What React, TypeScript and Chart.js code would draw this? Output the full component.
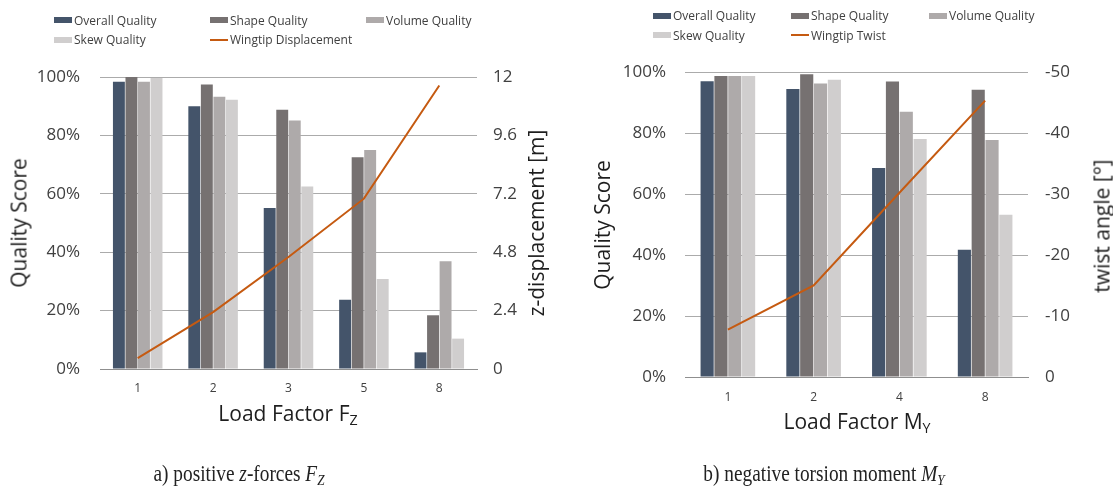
import React, { useEffect, useRef } from 'react';
import { Chart, registerables } from 'chart.js';

Chart.register(...registerables);

// ---------- data: panel a) positive z-forces ----------
const leftCategories = ['1', '2', '3', '5', '8'];
const leftOverall = [98.4, 90.0, 55.1, 23.7, 5.7];
const leftShape = [100.0, 97.4, 88.8, 72.5, 18.4];
const leftVolume = [98.4, 93.2, 85.1, 75.0, 36.9];
const leftSkew = [99.7, 92.2, 62.5, 30.8, 10.4];
const leftDisplacement = [0.45, 2.34, 4.6, 7.0, 11.65];
const displacementTicks = [0, 2.4, 4.8, 7.2, 9.6, 12];

// ---------- data: panel b) negative torsion moment ----------
const rightCategories = ['1', '2', '4', '8'];
const rightOverall = [97.0, 94.4, 68.5, 41.7];
const rightShape = [98.7, 99.3, 96.9, 94.2];
const rightVolume = [98.7, 96.2, 87.0, 77.7];
const rightSkew = [98.7, 97.5, 78.0, 53.2];
const rightTwist = [-7.75, -15.0, -30.2, -45.3];
const twistTicks = [0, -10, -20, -30, -40, -50];

const qualityTicks = [0, 20, 40, 60, 80, 100];
const seriesNames = ['Overall Quality', 'Shape Quality', 'Volume Quality', 'Skew Quality'];
const seriesColors = ['#44546a', '#767171', '#aeaaaa', '#d0cece'];
const lineColor = '#c55a11';

const FONT = '"Open Sans", "Noto Sans", sans-serif';
const TICK_COLOR = '#404040';
const TITLE_COLOR = '#1e1e1e';

type PanelProps = {
  left: number;
  width: number;
  height: number;
  categories: string[];
  bars: number[][];
  lineLabel: string;
  lineData: number[];
  lineTicks: number[];
  lineMin: number;
  lineMax: number;
  lineReverse: boolean;
  padTop: number;
  xHeight: number;
  yWidth: number;
  y2Width: number;
  yPad: number;
  y2Pad: number;
  xPad: number;
  catPct: number;
};

function ChartPanel(p: PanelProps) {
  const ref = useRef<HTMLCanvasElement | null>(null);
  useEffect(() => {
    if (!ref.current) return;
    const datasets: any[] = p.bars.map((data, i) => ({
      type: 'bar',
      label: seriesNames[i],
      data,
      backgroundColor: seriesColors[i],
      borderWidth: 0,
      yAxisID: 'y',
      categoryPercentage: p.catPct,
      barPercentage: 0.95,
      order: 1,
    }));
    datasets.push({
      type: 'line',
      label: p.lineLabel,
      data: p.lineData,
      borderColor: lineColor,
      backgroundColor: lineColor,
      borderWidth: 2,
      pointRadius: 0,
      tension: 0,
      yAxisID: 'y2',
      order: 0,
    });
    const chart = new Chart(ref.current, {
      type: 'bar',
      data: { labels: p.categories, datasets },
      options: {
        responsive: false,
        animation: false,
        events: [],
        layout: { padding: { top: p.padTop, left: 0, right: 0, bottom: 0 } },
        plugins: { legend: { display: false }, tooltip: { enabled: false } },
        scales: {
          x: {
            grid: { display: false, drawTicks: false },
            border: { display: true, color: '#8f8f8f', width: 1 },
            ticks: { color: TICK_COLOR, font: { family: FONT, size: 12 }, padding: p.xPad },
            afterFit: (s: any) => {
              s.height = p.xHeight;
            },
          },
          y: {
            position: 'left',
            min: 0,
            max: 100,
            grid: { color: '#ababab', lineWidth: 1, drawTicks: false },
            border: { display: false },
            ticks: {
              color: TICK_COLOR,
              font: { family: FONT, size: 17 },
              padding: p.yPad,
              callback: (v: any) => v + '%',
            },
            afterBuildTicks: (s: any) => {
              s.ticks = qualityTicks.map((v) => ({ value: v }));
            },
            afterFit: (s: any) => {
              s.width = p.yWidth;
            },
          },
          y2: {
            position: 'right',
            min: p.lineMin,
            max: p.lineMax,
            reverse: p.lineReverse,
            grid: { display: false, drawTicks: false },
            border: { display: false },
            ticks: {
              color: TICK_COLOR,
              font: { family: FONT, size: 17 },
              padding: p.y2Pad,
              callback: (v: any) => String(v),
            },
            afterBuildTicks: (s: any) => {
              s.ticks = p.lineTicks.map((v) => ({ value: v }));
            },
            afterFit: (s: any) => {
              s.width = p.y2Width;
            },
          },
        },
      } as any,
    });
    return () => chart.destroy();
  }, []);
  return (
    <canvas
      ref={ref}
      width={p.width}
      height={p.height}
      style={{ position: 'absolute', left: p.left, top: 0, width: p.width, height: p.height }}
    />
  );
}

function Legend(props: { left: number[]; rows: number[]; lineLabel: string }) {
  const items = [
    { label: seriesNames[0], color: seriesColors[0], line: false },
    { label: seriesNames[1], color: seriesColors[1], line: false },
    { label: seriesNames[2], color: seriesColors[2], line: false },
    { label: seriesNames[3], color: seriesColors[3], line: false },
    { label: props.lineLabel, color: lineColor, line: true },
  ];
  return (
    <>
      {items.map((it, i) => {
        const col = i % 3;
        const row = Math.floor(i / 3);
        return (
          <div
            key={i}
            style={{
              position: 'absolute',
              left: props.left[col],
              top: props.rows[row] - 9,
              height: 18,
              display: 'flex',
              alignItems: 'center',
              whiteSpace: 'nowrap',
              font: `12px ${FONT}`,
              color: '#404040',
            }}
          >
            <span
              style={{
                display: 'inline-block',
                width: 18,
                height: it.line ? 2 : 6,
                background: it.color,
                marginRight: 2,
              }}
            />
            {it.label}
          </div>
        );
      })}
    </>
  );
}

function AxisTitle(props: { x: number; y: number; rotate?: boolean; children: React.ReactNode }) {
  return (
    <div
      style={{
        position: 'absolute',
        left: props.x,
        top: props.y,
        transform: `translate(-50%, -50%)${props.rotate ? ' rotate(-90deg)' : ''}`,
        whiteSpace: 'nowrap',
        font: `21px ${FONT}`,
        color: TITLE_COLOR,
        lineHeight: 1,
      }}
    >
      {props.children}
    </div>
  );
}

function Caption(props: { x: number; y: number; children: React.ReactNode }) {
  return (
    <div
      style={{
        position: 'absolute',
        left: props.x,
        top: props.y,
        transform: 'translate(-50%, -50%) scaleX(0.84)',
        whiteSpace: 'nowrap',
        font: '23px "Liberation Serif", "DejaVu Serif", serif',
        color: '#222',
        lineHeight: 1,
      }}
    >
      {props.children}
    </div>
  );
}

const subStyle: React.CSSProperties = { fontSize: '0.68em', verticalAlign: '-0.3em', lineHeight: 0 };

export default function App() {
  return (
    <div style={{ position: 'absolute', left: 0, top: 0, width: 1113, height: 491, background: '#fff', overflow: 'hidden' }}>
      <ChartPanel
        left={0}
        width={556}
        height={440}
        categories={leftCategories}
        bars={[leftOverall, leftShape, leftVolume, leftSkew]}
        lineLabel="Wingtip Displacement"
        lineData={leftDisplacement}
        lineTicks={displacementTicks}
        lineMin={0}
        lineMax={12}
        lineReverse={false}
        padTop={77}
        xHeight={71}
        yWidth={100}
        y2Width={79}
        yPad={20}
        y2Pad={16}
        xPad={12}
        catPct={0.665}
      />
      <ChartPanel
        left={556}
        width={557}
        height={440}
        categories={rightCategories}
        bars={[rightOverall, rightShape, rightVolume, rightSkew]}
        lineLabel="Wingtip Twist"
        lineData={rightTwist}
        lineTicks={twistTicks}
        lineMin={-50}
        lineMax={0}
        lineReverse={true}
        padTop={72}
        xHeight={63}
        yWidth={129}
        y2Width={85}
        yPad={19}
        y2Pad={17}
        xPad={13}
        catPct={0.645}
      />
      <Legend left={[54, 210, 366]} rows={[20, 39.5]} lineLabel="Wingtip Displacement" />
      <Legend left={[653, 791, 929]} rows={[15.5, 35]} lineLabel="Wingtip Twist" />

      <AxisTitle x={19} y={223} rotate>Quality Score</AxisTitle>
      <AxisTitle x={536} y={223} rotate>z-displacement [m]</AxisTitle>
      <AxisTitle x={288} y={413}>
        Load Factor F<span style={subStyle}>Z</span>
      </AxisTitle>

      <AxisTitle x={602} y={225} rotate>Quality Score</AxisTitle>
      <AxisTitle x={1102} y={226} rotate>twist angle [°]</AxisTitle>
      <AxisTitle x={857} y={421}>
        Load Factor M<span style={subStyle}>Y</span>
      </AxisTitle>

      <Caption x={239} y={473}>
        a) positive <i>z</i>-forces <i>F</i><i style={subStyle}>Z</i>
      </Caption>
      <Caption x={824} y={473}>
        b) negative torsion moment <i>M</i><i style={subStyle}>Y</i>
      </Caption>
    </div>
  );
}
